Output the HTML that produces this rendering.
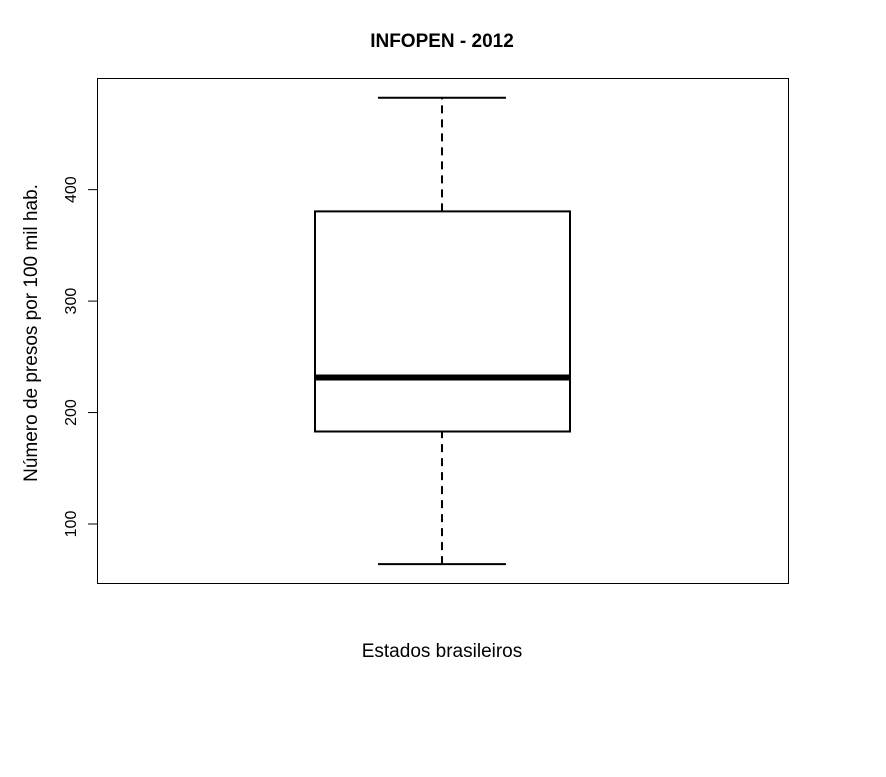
<!DOCTYPE html>
<html><head><meta charset="utf-8"><style>body{margin:0;background:#fff}svg{display:block;font-family:"Liberation Sans",Arial,sans-serif}</style></head>
<body>
<svg width="886" height="777">
<rect x="0" y="0" width="886" height="777" fill="#fff"/>
<text x="442" y="47" text-anchor="middle" font-size="19" font-weight="bold">INFOPEN - 2012</text>
<rect x="97.5" y="78.5" width="691" height="505" fill="none" stroke="#000" stroke-width="1"/>
<text x="442" y="657" text-anchor="middle" font-size="19">Estados brasileiros</text>
<text transform="translate(37,333) rotate(-90)" text-anchor="middle" font-size="19">Número de presos por 100 mil hab.</text>
<g id="yaxis"></g>
<g id="box"></g>
<script>
const ticks=[100,200,300,400];
const stats=[64,183,231.5,380.5,482.5]; // min,q1,median,q3,max
const y=v=>524-(v-100)*1.1145;
const ns="http://www.w3.org/2000/svg";
const ya=document.getElementById('yaxis'),bx=document.getElementById('box');
function mk(p,t,a){const e=document.createElementNS(ns,t);for(const k in a)e.setAttribute(k,a[k]);p.appendChild(e);return e;}
let ax=mk(ya,'line',{x1:97.5,x2:97.5,y1:y(ticks[0]),y2:y(ticks[ticks.length-1]),stroke:'#000'});


ticks.forEach(t=>{
 const l=mk(ya,'line',{x1:88,x2:97.5,y1:y(t),y2:y(t),stroke:'#000'});
 
 
 const tx=mk(ya,'text',{transform:`translate(76,${y(t)}) rotate(-90)`,'text-anchor':'middle','font-size':'16'});
 tx.textContent=t;
 
 
});
const cx=442,bl=315,br=570,cl=378,cr=506;
let w1=mk(bx,'line',{x1:cx,x2:cx,y1:y(stats[0]),y2:y(stats[1]),stroke:'#000','stroke-width':2,'stroke-dasharray':'8,6'});


let w2=mk(bx,'line',{x1:cx,x2:cx,y1:y(stats[3]),y2:y(stats[4]),stroke:'#000','stroke-width':2,'stroke-dasharray':'8,6'});


let c1=mk(bx,'line',{x1:cl,x2:cr,y1:y(stats[0]),y2:y(stats[0]),stroke:'#000','stroke-width':2});


let c2=mk(bx,'line',{x1:cl,x2:cr,y1:y(stats[4]),y2:y(stats[4]),stroke:'#000','stroke-width':2});


let r=mk(bx,'rect',{x:bl,y:y(stats[3]),width:br-bl,height:y(stats[1])-y(stats[3]),fill:'#fff',stroke:'#000','stroke-width':2});


let m=mk(bx,'line',{x1:bl,x2:br,y1:y(stats[2]),y2:y(stats[2]),stroke:'#000','stroke-width':6});


</script>
</svg>
</body></html>
